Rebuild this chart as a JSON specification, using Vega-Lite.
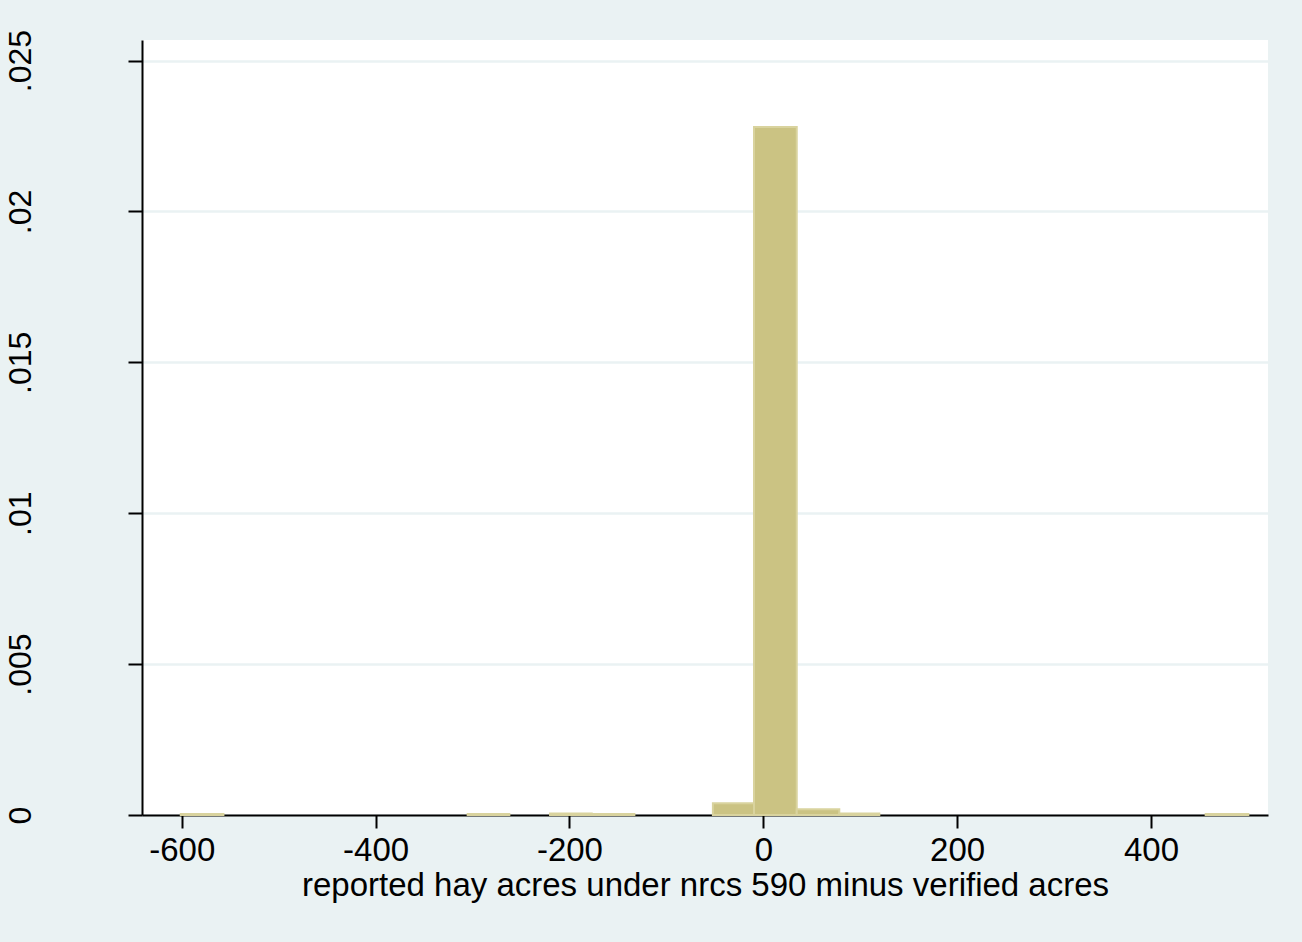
{
  "$schema": "https://vega.github.io/schema/vega-lite/v6.json",
  "width": 1126,
  "height": 775,
  "autosize": {"type": "none"},
  "padding": {"left": 142, "top": 40, "right": 34, "bottom": 127},
  "background": "#eaf2f3",
  "config": {
    "view": {"fill": "#ffffff", "stroke": null},
    "font": "Liberation Sans"
  },
  "data": {
    "values": [
      {"bin_start": -601, "bin_end": -557, "density": 0.00003},
      {"bin_start": -305, "bin_end": -262, "density": 0.00003},
      {"bin_start": -220, "bin_end": -177, "density": 0.00005},
      {"bin_start": -177, "bin_end": -133, "density": 0.00003},
      {"bin_start": -52, "bin_end": -9.6, "density": 0.00039},
      {"bin_start": -9.6, "bin_end": 34.5, "density": 0.0228},
      {"bin_start": 34.5, "bin_end": 78.4, "density": 0.00019},
      {"bin_start": 78.4, "bin_end": 119.7, "density": 0.00005},
      {"bin_start": 456.4, "bin_end": 500.4, "density": 0.00003}
    ]
  },
  "mark": {"type": "rect", "fill": "#cbc383", "stroke": "#d9d39e", "strokeWidth": 2},
  "encoding": {
    "x": {
      "field": "bin_start", "type": "quantitative",
      "scale": {"domain": [-641, 520.7], "nice": false, "zero": false},
      "axis": {
        "values": [-600, -400, -200, 0, 200, 400],
        "labelExpr": "'' + datum.value",
        "title": "reported hay acres under nrcs 590 minus verified acres",
        "grid": false,
        "domainColor": "#000000", "domainWidth": 2,
        "tickColor": "#000000", "tickWidth": 2, "tickSize": 13,
        "labelFontSize": 33, "labelColor": "#000000", "labelPadding": 6,
        "titleFontSize": 33, "titleColor": "#000000", "titleFontWeight": "normal", "titlePadding": 2
      }
    },
    "x2": {"field": "bin_end"},
    "y": {
      "field": "density", "type": "quantitative",
      "scale": {"domain": [0, 0.02568], "nice": false},
      "axis": {
        "values": [0, 0.005, 0.01, 0.015, 0.02, 0.025],
        "labelExpr": "datum.value == 0 ? '0' : replace(format(datum.value, '.3~f'), /^0/, '')",
        "title": null,
        "grid": true, "gridColor": "#eaf2f3", "gridWidth": 2.5,
        "domainColor": "#000000", "domainWidth": 2,
        "tickColor": "#000000", "tickWidth": 2, "tickSize": 14,
        "labelFontSize": 32, "labelColor": "#000000",
        "labelAngle": 270, "labelAlign": "center", "labelBaseline": "bottom",
        "labelPadding": 91
      }
    },
    "y2": {"datum": 0}
  }
}
